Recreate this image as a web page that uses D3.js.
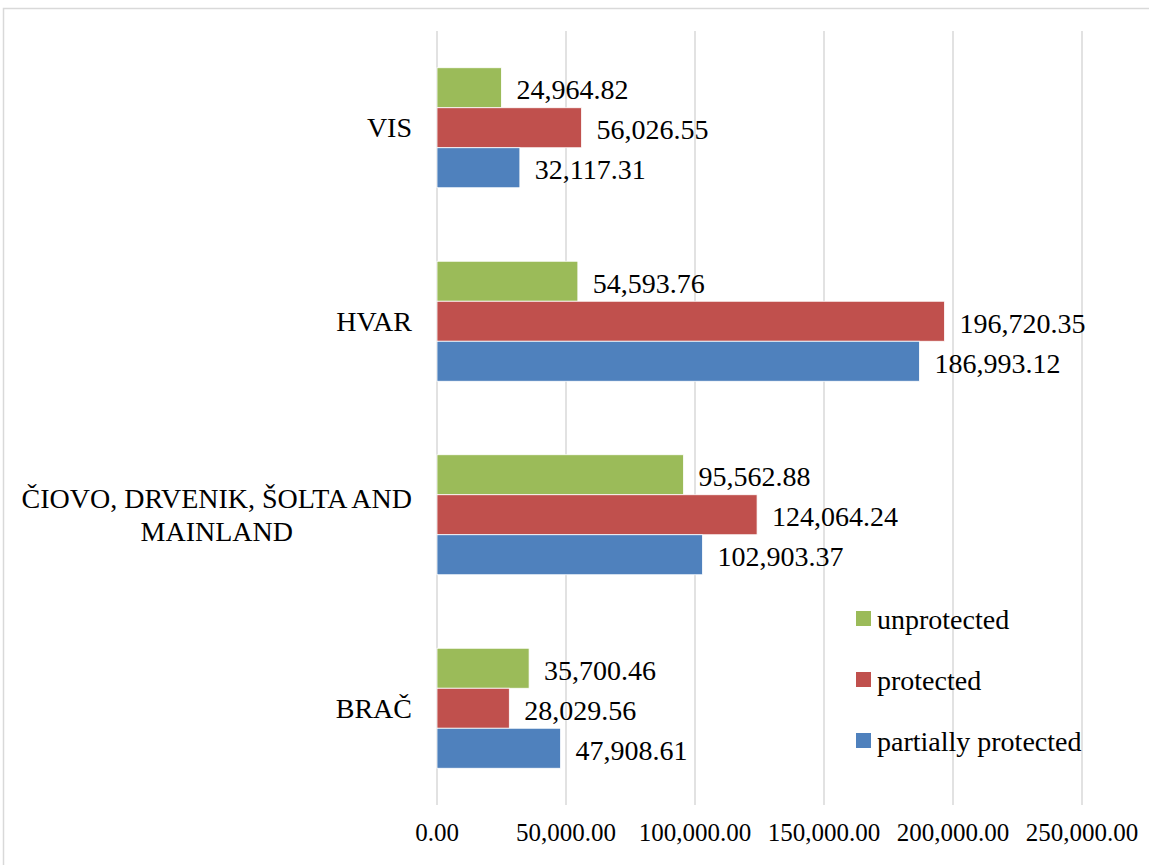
<!DOCTYPE html>
<html>
<head>
<meta charset="utf-8">
<script src="https://cdn.jsdelivr.net/npm/d3@7"></script>
<style>
body { margin: 0; background: #fff; }
text { font-family: "Liberation Serif", "Times New Roman", serif; fill: #000; }
</style>
</head>
<body>
<div id="chart"></div>
<script>
// category order, top to bottom as in the picture
var categories = ["VIS", "HVAR", "ČIOVO, DRVENIK, ŠOLTA AND MAINLAND", "BRAČ"];

var unprotected = [24964.82, 54593.76, 95562.88, 35700.46];
var protected_ = [56026.55, 196720.35, 124064.24, 28029.56];
var partially = [32117.31, 186993.12, 102903.37, 47908.61];

var series_names = ["unprotected", "protected", "partially protected"];
var series_values = [unprotected, protected_, partially];
var series_colors = ["#9BBB59", "#C0504D", "#4F81BD"];

var x_ticks = [0, 50000, 100000, 150000, 200000, 250000];

var W = 1149, H = 865;
var fmt = d3.format(",.2f");
var label_size = "28px";

var svg = d3.select("#chart").append("svg")
    .attr("width", W)
    .attr("height", H);

// chart border (runs off the right/bottom edge like the original)
svg.append("rect")
    .attr("x", 3.5).attr("y", 8.5)
    .attr("width", W + 20).attr("height", H + 20)
    .attr("fill", "none")
    .attr("stroke", "#d9d9d9")
    .attr("stroke-width", 1.5);

var x = d3.scaleLinear()
    .domain([0, 250000])
    .range([437, 1082]);

var y = d3.scaleBand()
    .domain(categories)
    .range([31, 805]);

var bar_h = 40;
var y_inner = d3.scaleBand()
    .domain(series_names)
    .range([0, bar_h * 3]);
var group_off = (y.bandwidth() - bar_h * 3) / 2;

// gridlines + tick labels
var grid = svg.append("g").attr("class", "grid");
grid.selectAll("line")
    .data(x_ticks)
    .enter().append("line")
    .attr("x1", function(d){ return x(d); })
    .attr("x2", function(d){ return x(d); })
    .attr("y1", 31).attr("y2", 805)
    .attr("stroke", "#d9d9d9")
    .attr("stroke-width", 1.5);

grid.selectAll("text")
    .data(x_ticks)
    .enter().append("text")
    .attr("x", function(d){ return x(d); })
    .attr("y", 832)
    .attr("text-anchor", "middle")
    .attr("dominant-baseline", "central")
    .style("font-size", "25px")
    .text(function(d){ return fmt(d); });

// bars
var rows = [];
categories.forEach(function(c, i){
    series_names.forEach(function(s, j){
	rows.push({cat: c, series: s, value: series_values[j][i], color: series_colors[j]});
    });
});

var yb = function(d){ return y(d.cat) + group_off + y_inner(d.series); };

svg.append("g").selectAll("rect")
    .data(rows)
    .enter().append("rect")
    .attr("x", x(0))
    .attr("y", yb)
    .attr("width", function(d){ return x(d.value) - x(0); })
    .attr("height", bar_h)
    .attr("fill", function(d){ return d.color; })
    .attr("stroke", "#fff")
    .attr("stroke-width", 0.8);

svg.append("g").selectAll("text")
    .data(rows)
    .enter().append("text")
    .attr("x", function(d){ return x(d.value) + 15; })
    .attr("y", function(d){ return yb(d) + bar_h / 2 + 2; })
    .attr("dominant-baseline", "central")
    .style("font-size", label_size)
    .text(function(d){ return fmt(d.value); });

// category labels, wrapped to ~410px and centred as a block
var max_w = 412;
var cat_g = svg.append("g");
categories.forEach(function(c){
    var t = cat_g.append("text")
	.style("font-size", label_size)
	.attr("text-anchor", "middle");
    var words = c.split(" "), lines = [], cur = [];
    words.forEach(function(w){
	cur.push(w);
	t.text(cur.join(" "));
	if (t.node().getComputedTextLength() > max_w && cur.length > 1){
	    cur.pop();
	    lines.push(cur.join(" "));
	    cur = [w];
	}
    });
    lines.push(cur.join(" "));
    t.text("");
    var widths = lines.map(function(l){
	t.text(l);
	return t.node().getComputedTextLength();
    });
    t.text("");
    var bw = d3.max(widths);
    var cx = 412 - bw / 2;
    var lh = 33;
    var y0 = y(c) + y.bandwidth() / 2 - (lines.length - 1) * lh / 2;
    lines.forEach(function(l, k){
	t.append("tspan")
	    .attr("x", cx)
	    .attr("y", y0 + k * lh)
	    .attr("dominant-baseline", "central")
	    .text(l);
    });
});

// legend
var leg = svg.append("g");
var leg_y = [618.5, 679.5, 740.5];
series_names.forEach(function(s, j){
    leg.append("rect")
	.attr("x", 856).attr("y", leg_y[j] - 7.5)
	.attr("width", 15).attr("height", 15)
	.attr("fill", series_colors[j]);
    leg.append("text")
	.attr("x", 877).attr("y", leg_y[j] + 1)
	.attr("dominant-baseline", "central")
	.style("font-size", label_size)
	.text(s);
});
</script>
</body>
</html>
